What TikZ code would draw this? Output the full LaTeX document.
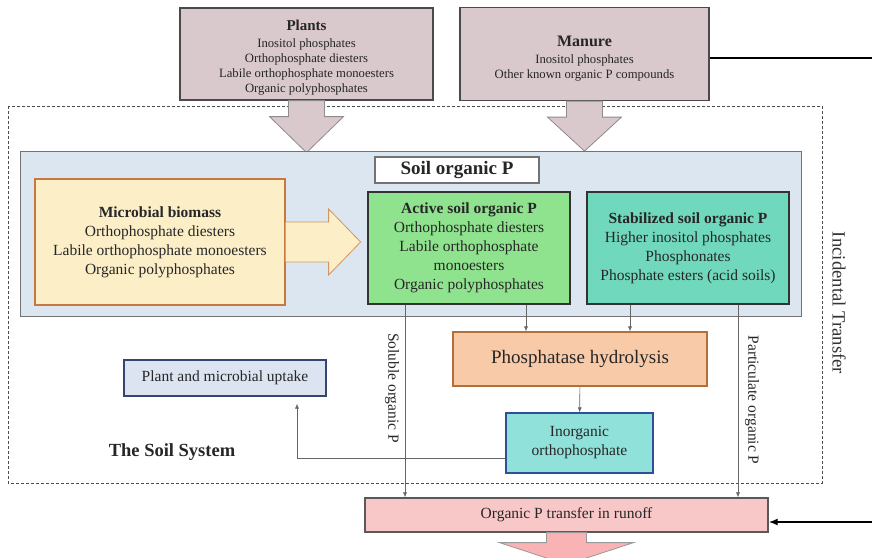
\documentclass[tikz,border=0pt]{standalone}
\usepackage{fontspec}
\setmainfont{Liberation Serif}
\usetikzlibrary{arrows.meta,calc}

\definecolor{srcfill}{HTML}{D9C9CC}
\definecolor{srcline}{HTML}{4A4A4A}
\definecolor{panelfill}{HTML}{DCE6F1}
\definecolor{microfill}{HTML}{FCEFC8}
\definecolor{microline}{HTML}{C8783C}
\definecolor{activefill}{HTML}{90E38E}
\definecolor{stabfill}{HTML}{70D8BC}
\definecolor{phosfill}{HTML}{F8CAA8}
\definecolor{phosline}{HTML}{B0703C}
\definecolor{inorgfill}{HTML}{90E1DA}
\definecolor{inorgline}{HTML}{2F4F9A}
\definecolor{upfill}{HTML}{DDE4F1}
\definecolor{upline}{HTML}{34466E}
\definecolor{runfill}{HTML}{F8C7C8}

\newcommand\ftop{\fontsize{12.7}{15}\selectfont}
\newcommand\fmid{\fontsize{15.5}{19}\selectfont}
\newcommand\fbig{\fontsize{19}{22}\selectfont}

\begin{document}
\begin{tikzpicture}[x=1pt,y=-1pt,
    box/.style={rectangle, line width=1.2pt, align=center, inner sep=0pt, text=black!85},
    link/.style={draw=black!60, line width=0.6pt, -{Latex[length=5pt,width=4pt]}},
    bigarrow/.style={fill=srcfill, draw=black!45, line width=0.8pt},
    heavy/.style={line width=2pt, black}]
  \useasboundingbox (0,0) rectangle (872,557);

  % the soil system frame
  \draw[black!70, line width=0.8pt, dash pattern=on 3pt off 2pt] (8,106) rectangle (822,483);
  \node[font=\fontsize{18.5}{20}\selectfont\bfseries, text=black!85] (soilsys) at (172,452) {The Soil System};
  \node[rotate=-90, font=\fontsize{18.7}{20}\selectfont, text=black!80] (incid) at (839,303) {Incidental Transfer};

  % sources
  \node[box, fill=srcfill, draw=srcline, minimum width=253, minimum height=92, font=\ftop] (plants) at (306.5,54)
    {{\fontsize{15}{16}\selectfont\bfseries\rule{0pt}{18pt}Plants}\\[2pt]Inositol phosphates\\Orthophosphate diesters\\
     Labile orthophosphate monoesters\\Organic polyphosphates};
  \node[box, fill=srcfill, draw=srcline, minimum width=249, minimum height=93, font=\ftop] (manure) at (584.5,54)
    {{\fontsize{16}{16}\selectfont\bfseries\rule{0pt}{19pt}Manure}\\[2pt]Inositol phosphates\\Other known organic P compounds};

  \draw[bigarrow] ($(plants.south)+(-18,0)$) -- ++(0,16) -- ++(-19,0) -- ($(plants.south)+(0,52)$)
    -- ($(plants.south)+(37,16)$) -- ++(-19,0) -- ($(plants.south)+(18,0)$) -- cycle;
  \draw[bigarrow] ($(manure.south)+(-18,0)$) -- ++(0,16) -- ++(-19,0) -- ($(manure.south)+(0,50)$)
    -- ($(manure.south)+(37,16)$) -- ++(-19,0) -- ($(manure.south)+(18,0)$) -- cycle;

  % soil organic P
  \node[box, fill=panelfill, draw=black!55, line width=1pt, minimum width=781, minimum height=165] (panel) at (410.5,233.5) {};
  \node[box, fill=white, draw=black!55, minimum width=164, minimum height=26,
        font=\fontsize{19}{20}\selectfont\bfseries] (soilp) at (457,170) {Soil organic P};
  \node[box, fill=microfill, draw=microline, minimum width=250, minimum height=126, font=\fmid] (micro) at (160,242)
    {\textbf{Microbial biomass}\\Orthophosphate diesters\\Labile orthophosphate monoesters\\Organic polyphosphates};
  \node[box, fill=activefill, draw=black!80, minimum width=202, minimum height=112, font=\fmid] (active) at (469,248)
    {\textbf{Active soil organic P}\\Orthophosphate diesters\\Labile orthophosphate\\monoesters\\Organic polyphosphates};
  \node[box, fill=stabfill, draw=black!80, minimum width=202, minimum height=112, font=\fmid] (stab) at (688,248)
    {\textbf{Stabilized soil organic P}\\Higher inositol phosphates\\Phosphonates\\Phosphate esters (acid soils)};

  \draw[fill=microfill, draw=microline!80, line width=0.8pt]
    ($(micro.east)+(0,-20)$) -- ++(43,0) -- ++(0,-13) -- ($(micro.east)+(75,0)$)
    -- ($(micro.east)+(43,33)$) -- ++(0,-13) -- ($(micro.east)+(0,20)$);

  % processes
  \node[box, fill=phosfill, draw=phosline, minimum width=254, minimum height=54, font=\fbig] (phos) at (580,359) {Phosphatase hydrolysis};
  \node[box, fill=inorgfill, draw=inorgline, minimum width=147, minimum height=60,
        font=\fontsize{15.5}{19}\selectfont] (inorg) at (579.5,443) {Inorganic\\orthophosphate};
  \node[box, fill=upfill, draw=upline, minimum width=202, minimum height=36,
        font=\fontsize{15.5}{18}\selectfont] (uptake) at (225,378) {Plant and microbial uptake};
  \node[box, fill=runfill, draw=black!65, minimum width=403, minimum height=34,
        font=\fontsize{15.5}{18}\selectfont] (runoff) at (566.5,515) {Organic P transfer in runoff};

  \draw[bigarrow, fill=runfill!90!red, draw=black!40] ($(runoff.south)+(-20,0)$) -- ++(0,10) -- ++(-47,0)
    -- ($(runoff.south)+(0,32)$) -- ($(runoff.south)+(67,10)$) -- ++(-47,0) -- ($(runoff.south)+(20,0)$) -- cycle;

  % connectors
  \coordinate (solx) at (405,0);
  \coordinate (partx) at (738,0);
  \coordinate (actx) at (526,0);
  \coordinate (stabx) at (630,0);
  \draw[link] (solx |- active.south) -- (solx |- runoff.north);
  \draw[link] (partx |- stab.south) -- (partx |- runoff.north);
  \draw[link] (actx |- active.south) -- (actx |- phos.north);
  \draw[link] (stabx |- stab.south) -- (stabx |- phos.north);
  \draw[link] (phos) -- (inorg);
  \draw[link] ($(inorg.west)+(0,15)$) -| ($(uptake.south)+(72,7)$);

  \node[rotate=-90, font=\fontsize{15.5}{18}\selectfont, text=black!85] (soluble) at (392,388) {Soluble organic P};
  \node[rotate=-90, font=\fontsize{15.5}{18}\selectfont, text=black!85] (partic) at (752,400) {Particulate organic P};

  % incidental transfer
  \coordinate (edgetop) at (872,58);
  \coordinate (edgebot) at (872,522);
  \draw[heavy] (manure.east |- edgetop) -- (edgetop);
  \draw[heavy, -{Latex[length=9pt,width=7pt]}] (edgebot) -- (runoff.east |- edgebot);
\end{tikzpicture}
\end{document}
